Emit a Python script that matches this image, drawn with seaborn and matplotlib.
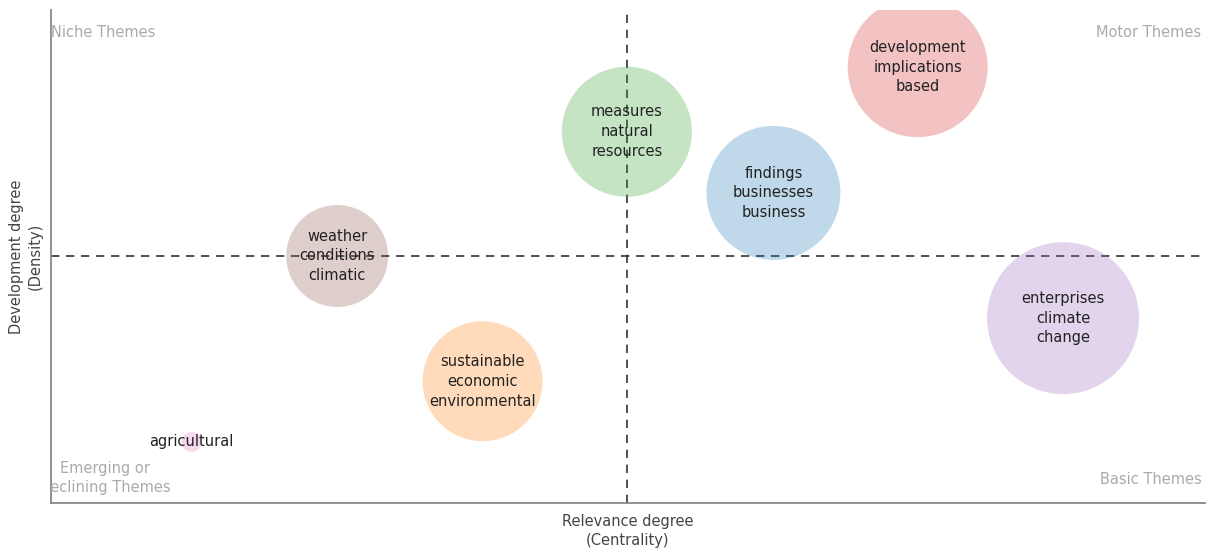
import numpy as np
import pandas as pd
import matplotlib
matplotlib.use('Agg')
import matplotlib.pyplot as plt
import seaborn as sns

# Cluster data
labels = ['findings\nbusinesses\nbusiness',
          'sustainable\neconomic\nenvironmental',
          'measures\nnatural\nresources',
          'development\nimplications\nbased',
          'enterprises\nclimate\nchange',
          'weather\nconditions\nclimatic',
          'agricultural']
centrality = [6.26, 3.74, 4.99, 7.51, 8.77, 2.48, 1.22]
density = [6.29, 2.47, 7.53, 8.84, 3.75, 5.01, 1.24]
frequency = [449, 360, 423, 490, 578, 260, 10]

df = pd.DataFrame({'label': labels, 'centrality': centrality,
                   'density': density, 'frequency': frequency})

sns.set_style('white')
plt.rcParams['font.family'] = ['DejaVu Sans']

fig = plt.figure(figsize=(12.1, 5.49), dpi=100)
ax = fig.add_axes([0.0421, 0.0838, 0.9538, 0.898])

palette = sns.color_palette('tab10', len(df))
sns.scatterplot(data=df, x='centrality', y='density', hue='label',
                size='frequency', sizes=(207, 11977), palette=palette,
                alpha=0.28, linewidth=0, legend=False, ax=ax, zorder=2)

# mean lines
ax.axvline(np.mean(centrality), color='#333333', linestyle=(0, (5, 4)), linewidth=1.2, zorder=1)
ax.axhline(np.mean(density), color='#333333', linestyle=(0, (5, 4)), linewidth=1.2, zorder=1)

fs = 10.5
for _, r in df.iterrows():
    ax.text(r['centrality'], r['density'], r['label'], ha='center', va='center',
            fontsize=fs, color='#222222', linespacing=1.4, zorder=3)

qcol = '#aaaaaa'
ax.text(0.0, 0.955, 'Niche Themes', transform=ax.transAxes, ha='left', va='center',
        fontsize=fs, color=qcol)
ax.text(0.997, 0.955, 'Motor Themes', transform=ax.transAxes, ha='right', va='center',
        fontsize=fs, color=qcol)
ax.text(0.997, 0.047, 'Basic Themes', transform=ax.transAxes, ha='right', va='center',
        fontsize=fs, color=qcol)
ax.text(0.047, 0.051, 'Emerging or\nDeclining Themes', transform=ax.transAxes, ha='center',
        va='center', fontsize=fs, color=qcol, linespacing=1.3, clip_on=True)

ax.set_xlim(0, 10)
ax.set_ylim(0, 10)
ax.set_xticks([])
ax.set_yticks([])
ax.set_xlabel('Relevance degree\n(Centrality)', fontsize=fs, color='#444444', labelpad=8,
              linespacing=1.3)
ax.set_ylabel('Development degree\n(Density)', fontsize=fs, color='#444444', labelpad=6,
              linespacing=1.3)
for s in ['top', 'right']:
    ax.spines[s].set_visible(False)
for s in ['left', 'bottom']:
    ax.spines[s].set_color('#888888')
    ax.spines[s].set_linewidth(1.3)

fig.savefig('out.png', dpi=100)
